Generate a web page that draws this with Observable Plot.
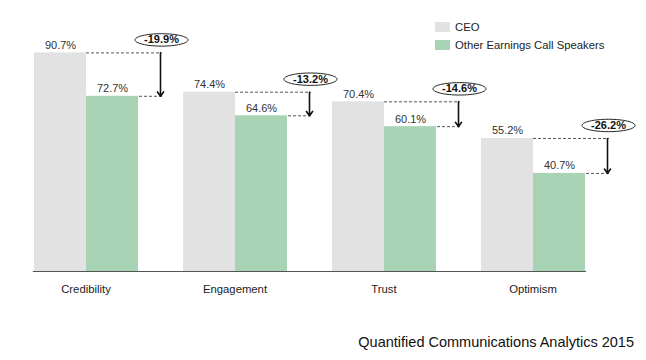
<!DOCTYPE html>
<html>
<head>
<meta charset="utf-8">
<script src="https://cdn.jsdelivr.net/npm/d3@7"></script>
<script src="https://cdn.jsdelivr.net/npm/@observablehq/plot@0.6"></script>
<style>
  html, body { margin: 0; padding: 0; background: #fff; }
  #wrap { position: relative; width: 646px; height: 360px; font-family: "Liberation Sans", Arial, sans-serif; }
  #legend { position: absolute; left: 435px; top: 17.5px; font-size: 11.3px; color: #222; }
  .row { display: flex; align-items: center; height: 18.5px; line-height: 18.5px; white-space: nowrap; }
  .sw { width: 15px; height: 10px; margin-right: 5px; }
  #caption { position: absolute; right: 12px; top: 333.5px; font-size: 14.5px; line-height: 16px; color: #111; white-space: nowrap; }
</style>
</head>
<body>
<div id="wrap">
  <div id="chart"></div>
  <div id="legend"></div>
  <div id="caption"></div>
</div>
<script>
const categories = ["Credibility", "Engagement", "Trust", "Optimism"];
const series = ["CEO", "Other Earnings Call Speakers"];
const ceoValues = [90.7, 74.4, 70.4, 55.2];
const otherValues = [72.7, 64.6, 60.1, 40.7];
const changes = [-19.9, -13.2, -14.6, -26.2];
const colors = ["#e2e2e2", "#a8d3b4"];
const captionText = "Quantified Communications Analytics 2015";

const rows = categories.flatMap((c, i) => [
  {category: c, series: series[0], value: ceoValues[i]},
  {category: c, series: series[1], value: otherValues[i]}
]);
const gaps = categories.map((c, i) => ({category: c, ceo: ceoValues[i], other: otherValues[i], change: changes[i]}));

const ellipse = {
  draw(ctx) {
    const rx = 26.5, ry = 6.2, k = 0.5523;
    ctx.moveTo(rx, 0);
    ctx.bezierCurveTo(rx, ry * k, rx * k, ry, 0, ry);
    ctx.bezierCurveTo(-rx * k, ry, -rx, ry * k, -rx, 0);
    ctx.bezierCurveTo(-rx, -ry * k, -rx * k, -ry, 0, -ry);
    ctx.bezierCurveTo(rx * k, -ry, rx, -ry * k, rx, 0);
    ctx.closePath();
  }
};

const other = () => series[1];

const chart = Plot.plot({
  width: 646,
  height: 332,
  marginTop: 30,
  marginBottom: 61,
  marginLeft: 9,
  marginRight: 30,
  style: {fontFamily: "Liberation Sans, Arial, sans-serif", fontSize: "11.3px", color: "#222", background: "transparent"},
  fx: {domain: categories, paddingInner: 0.293, paddingOuter: 0.17, align: 0.43, axis: "bottom", tickSize: 0, tickPadding: 13, label: null},
  x: {domain: series, padding: 0, axis: null},
  y: {domain: [0, 100], axis: null},
  color: {domain: series, range: colors},
  marks: [
    Plot.barY(rows, {fx: "category", x: "series", y: "value", fill: "series"}),
    Plot.text(rows, {fx: "category", x: "series", y: "value", text: d => d.value.toFixed(1) + "%", lineAnchor: "bottom", dy: -4, fontSize: 11, fill: "#333"}),
    Plot.tickY(gaps, {fx: "category", x: other, y: "ceo", insetRight: -24, stroke: "#555", strokeWidth: 1, strokeDasharray: "3,2"}),
    Plot.tickY(gaps, {fx: "category", x: other, y: "other", insetLeft: 53, insetRight: -24, stroke: "#555", strokeWidth: 1, strokeDasharray: "3,2"}),
    Plot.arrow(gaps, {fx: "category", x1: other, x2: other, y1: "ceo", y2: "other", dx: 48, stroke: "#111", strokeWidth: 1.6, headLength: 5, headAngle: 70}),
    Plot.dot(gaps, {fx: "category", x: other, y: "ceo", dx: 49, dy: -13, symbol: ellipse, r: 5, fill: "white", stroke: "#222", strokeWidth: 1}),
    Plot.text(gaps, {fx: "category", x: other, y: "ceo", dx: 49, dy: -13, text: d => d.change.toFixed(1) + "%", fontSize: 11, fontWeight: "bold", fill: "#111"}),
    Plot.frame({facet: "super", anchor: "bottom", stroke: "#555", strokeWidth: 1.2})
  ]
});
document.getElementById("chart").append(chart);

const legend = document.getElementById("legend");
series.forEach((s, i) => {
  const row = document.createElement("div");
  row.className = "row";
  const sw = document.createElement("div");
  sw.className = "sw";
  sw.style.background = colors[i];
  const t = document.createElement("span");
  t.textContent = s;
  row.append(sw, t);
  legend.append(row);
});
document.getElementById("caption").textContent = captionText;
</script>
</body>
</html>
